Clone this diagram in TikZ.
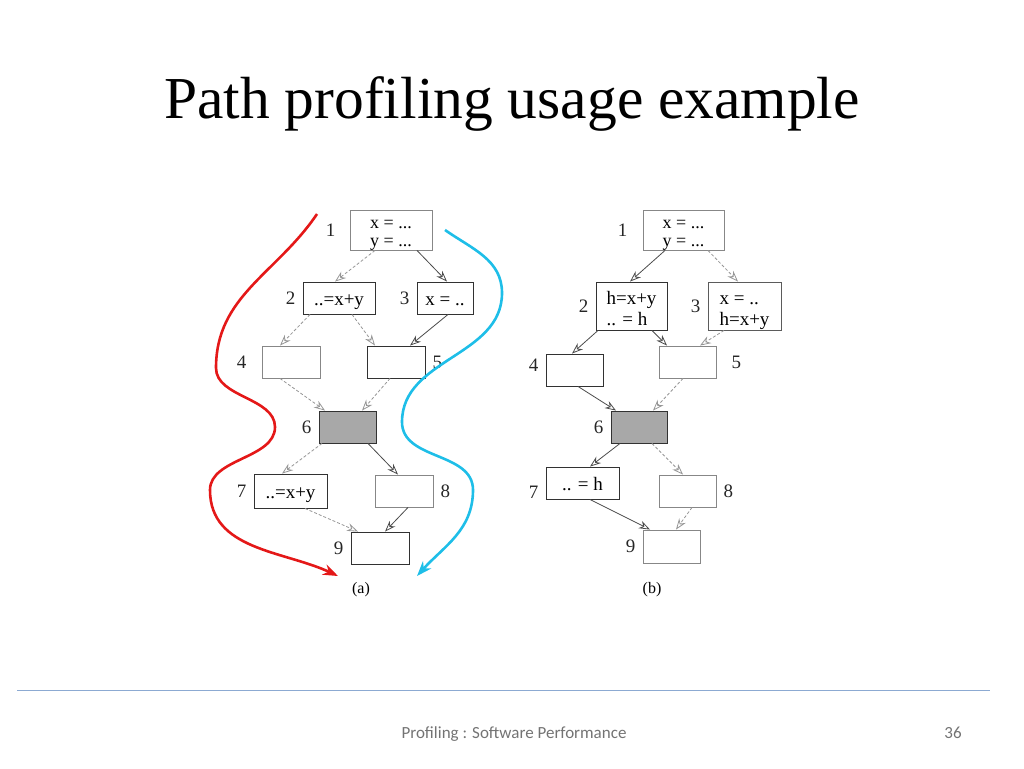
\documentclass[tikz,border=0pt]{standalone}
\usepackage{fontspec}
\setmainfont{Liberation Serif}
\newfontfamily\footfont{Carlito}
\usetikzlibrary{arrows.meta}

\definecolor{boxdark}{RGB}{50,50,50}
\definecolor{boxgray}{RGB}{135,135,135}
\definecolor{edgegray}{RGB}{150,150,150}
\definecolor{edgedark}{RGB}{75,75,75}
\definecolor{shade}{RGB}{168,168,168}
\definecolor{pathred}{RGB}{228,24,24}
\definecolor{pathblue}{RGB}{30,190,232}
\definecolor{rulecol}{RGB}{140,170,210}
\definecolor{footgray}{RGB}{115,115,115}

\newcommand{\boxlines}[2]{\begin{tabular}{@{}l@{}}#1\\#2\end{tabular}}

\begin{document}
\begin{tikzpicture}[x=1pt,y=-1pt, label distance=7pt,
  blk/.style={draw=boxdark, line width=0.9pt, inner sep=1pt,
    font=\fontsize{19}{20}\selectfont},
  lightblk/.style={blk, draw=boxgray},
  oneline/.style={text height=16pt, text depth=2pt},
  smallpair/.style={font=\fontsize{18}{18}\selectfont, text height=27pt, text depth=10pt},
  bigpair/.style={font=\fontsize{19}{21}\selectfont, text height=32pt, text depth=13.5pt},
  every label/.style={font=\fontsize{19}{19}\selectfont, text=black!85, inner sep=0pt},
  taken/.style={-{Stealth[open,length=11pt,width=8pt]}, draw=edgedark, line width=0.8pt},
  skipped/.style={-{Stealth[open,length=11pt,width=8pt]}, draw=edgegray, line width=0.8pt,
    dash pattern=on 3pt off 2pt},
  route/.style={line width=2.6pt, -{Stealth[length=15pt,width=11pt]}}]
  \useasboundingbox (0,0) rectangle (1024,768);

  \node[font=\fontsize{59.5}{60}\selectfont, anchor=base] (title) at (512,118) {Path profiling usage example};

  % (a)
  \node[lightblk, smallpair, minimum width=82, minimum height=40, label={[label distance=14pt]left:1}] (a1) at (391,230) {\boxlines{x = ...}{y = ...}};
  \node[blk, oneline, minimum width=72, minimum height=32, label={left:2}] (a2) at (339,298) {..=x+y};
  \node[blk, oneline, minimum width=56, minimum height=32, label={left:3}] (a3) at (445,298) {x = ..};
  \node[lightblk, minimum width=58, minimum height=32, label={[label distance=15pt]left:4}] (a4) at (291,362) {};
  \node[blk, minimum width=58, minimum height=32, label={right:5}] (a5) at (396,362) {};
  \node[blk, fill=shade, minimum width=57, minimum height=32, label={left:6}] (a6) at (347.5,427) {};
  \node[blk, oneline, minimum width=73, minimum height=34, label={left:7}] (a7) at (290.5,491) {..=x+y};
  \node[lightblk, minimum width=58, minimum height=32, label={right:8}] (a8) at (404,491) {};
  \node[blk, minimum width=58, minimum height=32, label={left:9}] (a9) at (380,548) {};
  \node[font=\fontsize{16}{16}\selectfont] (capa) at (361,590) {(a)};

  \draw[skipped] ([xshift=-16pt]a1.south) -- ([xshift=-4pt]a2.north);
  \draw[taken] ([xshift=26pt]a1.south) -- ([xshift=2pt]a3.north);
  \draw[skipped] ([xshift=-29pt]a2.south) -- ([xshift=-11pt]a4.north);
  \draw[skipped] ([xshift=13pt]a2.south) -- ([xshift=-21pt]a5.north);
  \draw[taken] ([xshift=3pt]a3.south) -- ([xshift=14pt]a5.north);
  \draw[skipped] ([xshift=-11pt]a4.south) -- ([xshift=-22.5pt]a6.north);
  \draw[skipped] ([xshift=-6pt]a5.south) -- ([xshift=14.5pt]a6.north);
  \draw[skipped] ([xshift=-25.5pt]a6.south) -- ([xshift=-8.5pt]a7.north);
  \draw[taken] ([xshift=20.5pt]a6.south) -- ([xshift=-6pt]a8.north);
  \draw[skipped] ([xshift=14.5pt]a7.south) -- ([xshift=-22pt]a9.north);
  \draw[taken] ([xshift=4pt]a8.south) -- ([xshift=5pt]a9.north);

  % the two paths
  \coordinate (r0) at (317,214);
  \coordinate (r1) at (216,368);
  \coordinate (r2) at (275,427);
  \coordinate (r3) at (210,490);
  \coordinate (r4) at (338,576);
  \draw[route, pathred] (r0) to[out=-124,in=90] (r1) to[out=-90,in=90,looseness=0.9] (r2)
    to[out=-90,in=90,looseness=0.9] (r3) to[out=-90,in=155] (r4);
  \coordinate (c0) at (445,230);
  \coordinate (c1) at (502,293);
  \coordinate (c2) at (402,422);
  \coordinate (c3) at (473,490);
  \coordinate (c4) at (417,576);
  \draw[route, pathblue] (c0) to[out=-35,in=90] (c1) to[out=-90,in=90] (c2)
    to[out=-90,in=90] (c3) to[out=-90,in=48] (c4);

  % (b)
  \node[lightblk, smallpair, minimum width=81, minimum height=40, label={[label distance=15pt]left:1}] (b1) at (683.5,230) {\boxlines{x = ...}{y = ...}};
  \node[blk, bigpair, minimum width=71, minimum height=48, label={left:2}] (b2) at (631.5,306) {\boxlines{h=x+y}{.. = h}};
  \node[blk, bigpair, draw=boxdark!80, minimum width=73, minimum height=48, label={left:3}] (b3) at (744.5,306) {\boxlines{x = ..}{h=x+y}};
  \node[blk, minimum width=57, minimum height=32, label={[yshift=5pt]left:4}] (b4) at (574.5,370) {};
  \node[lightblk, minimum width=57, minimum height=32, label={[label distance=15pt]right:5}] (b5) at (687.5,362) {};
  \node[blk, fill=shade, minimum width=56, minimum height=32, label={left:6}] (b6) at (639,427) {};
  \node[blk, oneline, minimum width=73, minimum height=32, label={[yshift=-9pt]left:7}] (b7) at (582.5,483) {.. = h};
  \node[lightblk, minimum width=57, minimum height=32, label={right:8}] (b8) at (687.5,491) {};
  \node[lightblk, minimum width=57, minimum height=33, label={left:9}] (b9) at (671.5,546.5) {};
  \node[font=\fontsize{16}{16}\selectfont] (capb) at (652,590) {(b)};

  \draw[taken] ([xshift=-18.5pt]b1.south) -- ([xshift=-1.5pt]b2.north);
  \draw[skipped] ([xshift=24.5pt]b1.south) -- ([xshift=-6.5pt]b3.north);
  \draw[taken] ([xshift=-33.5pt]b2.south) -- ([xshift=-2.5pt]b4.north);
  \draw[taken] ([xshift=20.5pt]b2.south) -- ([xshift=-20.5pt]b5.north);
  \draw[skipped] ([xshift=-20.5pt]b3.south) -- ([xshift=12.5pt]b5.north);
  \draw[taken] ([xshift=3.5pt]b4.south) -- ([xshift=-23pt]b6.north);
  \draw[skipped] ([xshift=-4.5pt]b5.south) -- ([xshift=14pt]b6.north);
  \draw[taken] ([xshift=-19pt]b6.south) -- ([xshift=7.5pt]b7.north);
  \draw[skipped] ([xshift=13pt]b6.south) -- ([xshift=-4.5pt]b8.north);
  \draw[taken] ([xshift=7.5pt]b7.south) -- ([xshift=-21.5pt]b9.north);
  \draw[skipped] ([xshift=4.5pt]b8.south) -- ([xshift=4.5pt]b9.north);

  % footer
  \coordinate (rl) at (17,690);
  \coordinate (rr) at (990,690);
  \draw[rulecol, line width=1pt] (rl) -- (rr);
  \node[font=\footfont\fontsize{17}{17}\selectfont, text=footgray, anchor=base] (foot) at (514,738) {Profiling : Software Performance};
  \node[font=\footfont\fontsize{17}{17}\selectfont, text=footgray, anchor=base] (page) at (953,738) {36};
\end{tikzpicture}
\end{document}
